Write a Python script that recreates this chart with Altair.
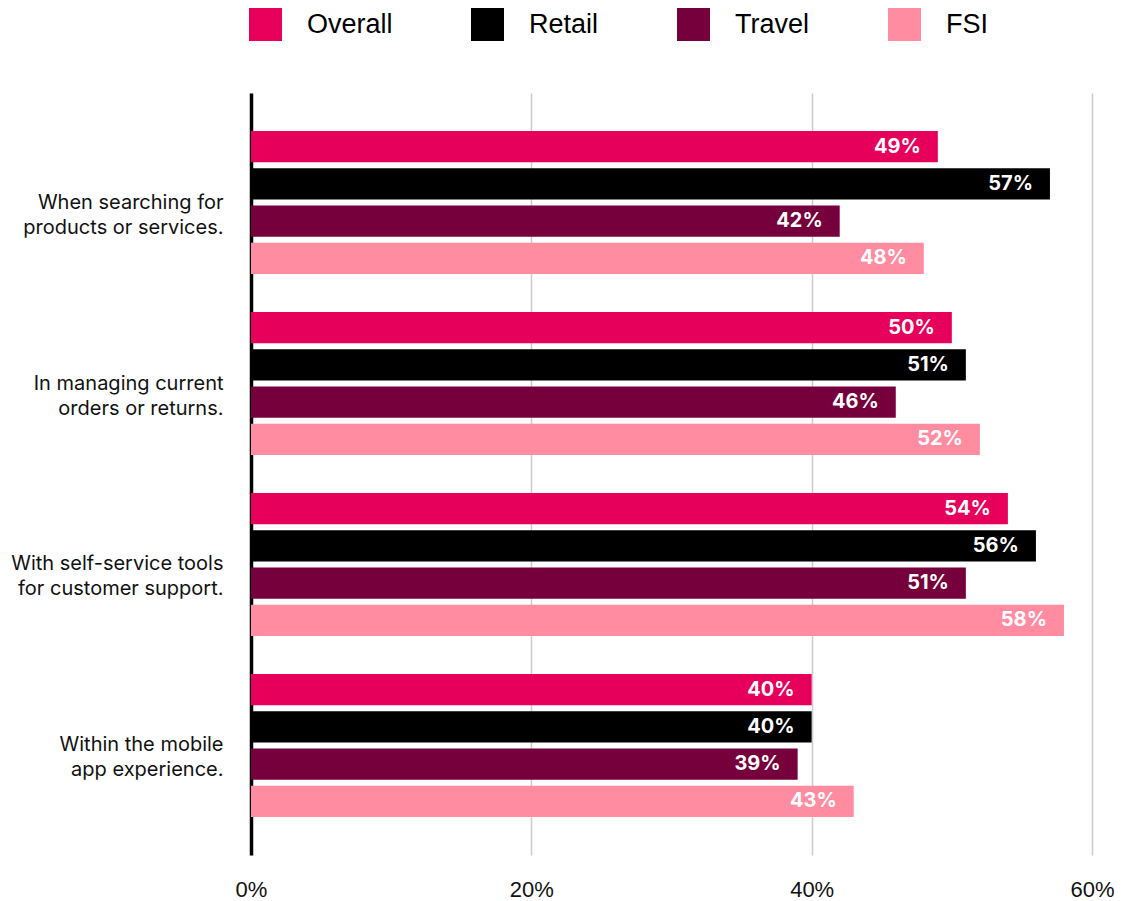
import altair as alt
import pandas as pd

categories = [
    "When searching for\nproducts or services.",
    "In managing current\norders or returns.",
    "With self-service tools\nfor customer support.",
    "Within the mobile\napp experience.",
]
series = ["Overall", "Retail", "Travel", "FSI"]
colors = ["#E6005B", "#000000", "#76003C", "#FF8CA1"]
overall = [49, 50, 54, 40]
retail = [57, 51, 56, 40]
travel = [42, 46, 51, 39]
fsi = [48, 52, 58, 43]
x_ticks = [0, 20, 40, 60]

series_values = {"Overall": overall, "Retail": retail, "Travel": travel, "FSI": fsi}
rows = []
for s in series:
    for c, v in zip(categories, series_values[s]):
        rows.append({"category": c, "series": s, "value": v})
df = pd.DataFrame(rows)

base = alt.Chart(df).transform_calculate(
    label="datum.value + '%'"
).encode(
    y=alt.Y(
        "category:N",
        sort=categories,
        title=None,
        scale=alt.Scale(paddingInner=0.21, paddingOuter=0.21),
        axis=alt.Axis(
            labelExpr="split(datum.label, '\\n')",
            labelFont="Inter",
            labelFontSize=20,
            labelColor="#111111",
            labelLineHeight=25,
            labelPadding=28,
            ticks=False,
            tickSize=0,
            domain=True,
            domainColor="#000000",
            domainWidth=3.5,
            grid=False,
            labelLimit=400,
        ),
    ),
    yOffset=alt.YOffset(
        "series:N", sort=series, scale=alt.Scale(paddingInner=0.16, paddingOuter=0)
    ),
    x=alt.X(
        "value:Q",
        title=None,
        scale=alt.Scale(domain=[0, 60], nice=False),
        axis=alt.Axis(
            values=x_ticks,
            labelExpr="datum.value + '%'",
            labelFont="Liberation Sans",
            labelFontSize=22,
            labelColor="#111111",
            labelPadding=24,
            labelFlush=False,
            ticks=False,
            tickSize=0,
            domain=False,
            grid=True,
            gridColor="#CCCCCC",
            gridWidth=1.5,
        ),
    ),
)

bars = base.mark_bar(strokeWidth=0).encode(
    color=alt.Color(
        "series:N",
        sort=series,
        scale=alt.Scale(domain=series, range=colors),
        legend=alt.Legend(
            title=None,
            orient="none",
            legendX=-2,
            legendY=-85,
            direction="horizontal",
            columns=4,
            symbolType="square",
            symbolSize=1089,
            symbolStrokeWidth=0,
            symbolOpacity=1,
            labelFont="Liberation Sans",
            labelFontSize=27,
            labelColor="#000000",
            labelOffset=25,
            columnPadding=78,
        ),
    )
)

labels = base.mark_text(
    align="right",
    baseline="middle",
    dx=-17,
    color="white",
    font="Inter",
    fontSize=20,
    fontWeight="bold",
).encode(text=alt.Text("label:N"))

chart = (
    alt.layer(bars, labels)
    .properties(
        width=841,
        height=762,
        background="white",
        padding={"left": 251, "top": 93, "right": 43, "bottom": 46},
        autosize=alt.AutoSizeParams(type="none"),
    )
    .configure_view(strokeWidth=0, stroke="transparent")
)

chart.save("out.html", embed_options={"renderer": "svg", "actions": False})
